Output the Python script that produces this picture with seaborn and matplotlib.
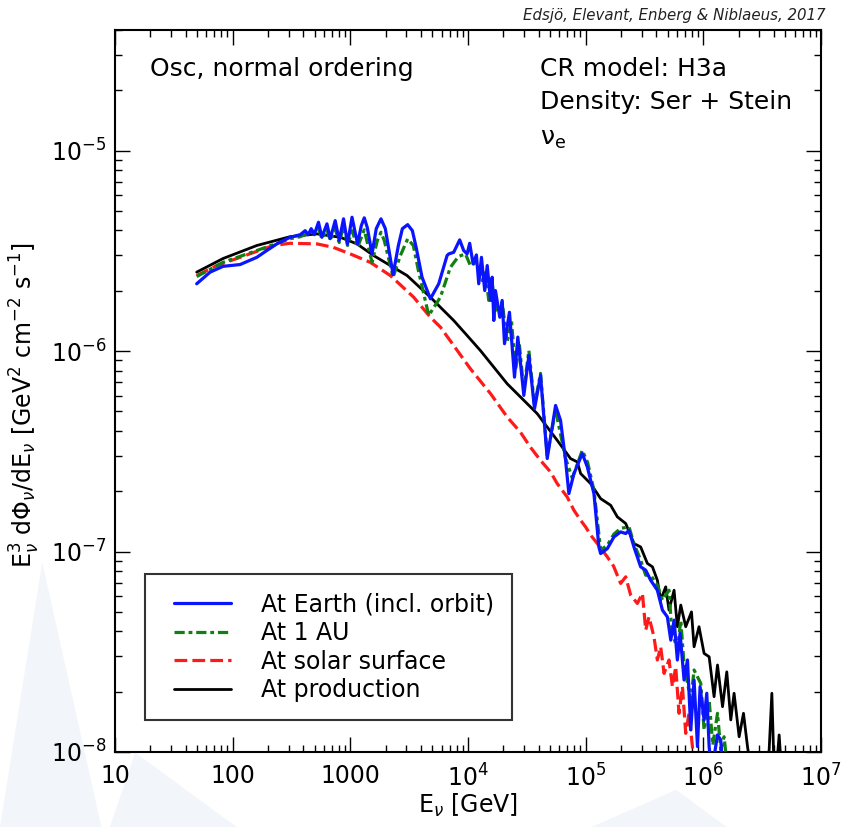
import numpy as np
import pandas as pd
import matplotlib
matplotlib.use("Agg")
import matplotlib.pyplot as plt
import seaborn as sns
from matplotlib.patches import Polygon
from matplotlib.lines import Line2D
from matplotlib.legend_handler import HandlerLine2D

# ---- spectra: log10(E / GeV) and log10(E^3 dPhi/dE) ----
earth_log_e = [1.695, 1.809, 1.919, 2.064, 2.206, 2.291, 2.376, 2.489, 2.575, 2.617,
               2.643, 2.668, 2.694, 2.730, 2.759, 2.802, 2.830, 2.872, 2.906, 2.943,
               2.977, 3.015, 3.062, 3.094, 3.119, 3.145, 3.185, 3.221, 3.261, 3.298,
               3.364, 3.409, 3.443, 3.488, 3.528, 3.562, 3.610,
               3.681, 3.752, 3.823, 3.837, 3.879, 3.930, 3.964, 3.993, 4.015, 4.044,
               4.072, 4.092, 4.115, 4.143, 4.164, 4.192, 4.206, 4.220, 4.234, 4.271,
               4.291, 4.311, 4.353, 4.396, 4.424, 4.475, 4.518, 4.566, 4.617, 4.674,
               4.745, 4.787, 4.830, 4.858, 4.901, 4.972, 5.015, 5.071, 5.113, 5.128,
               5.185, 5.241, 5.298, 5.341, 5.369, 5.411, 5.468, 5.511, 5.553, 5.610,
               5.653, 5.695, 5.724, 5.752, 5.780, 5.803, 5.837, 5.866, 5.894, 5.922,
               5.951, 5.973, 6.007, 6.030, 6.050, 6.072, 6.121, 6.149, 6.174]
earth_log_flux = [-5.664, -5.606, -5.577, -5.568, -5.532, -5.498, -5.465, -5.432, -5.419, -5.399,
                  -5.419, -5.389, -5.419, -5.357, -5.432, -5.365, -5.439, -5.349, -5.448, -5.340,
                  -5.465, -5.332, -5.465, -5.374, -5.335, -5.384, -5.515, -5.389, -5.340, -5.389,
                  -5.618, -5.473, -5.389, -5.369, -5.399, -5.488, -5.631,
                  -5.739, -5.664, -5.523, -5.515, -5.507, -5.445, -5.498, -5.515, -5.462, -5.565,
                  -5.520, -5.664, -5.532, -5.698, -5.573, -5.747, -5.631, -5.847, -5.698, -5.831,
                  -5.747, -5.963, -5.806, -6.130, -5.930, -6.221, -6.022, -6.287, -6.121, -6.536,
                  -6.271, -6.345, -6.545, -6.711, -6.611, -6.511, -6.578, -6.711, -6.977, -7.010,
                  -6.985, -6.927, -6.902, -6.910, -6.894, -6.977, -7.076, -7.093, -7.143, -7.193,
                  -7.292, -7.326, -7.442, -7.342, -7.541, -7.408, -7.641, -7.541, -7.890, -7.641,
                  -7.973, -7.674, -7.840, -7.707, -7.973, -8.100, -7.915, -7.940, -8.200]

au_log_e = [1.695, 1.919, 2.206, 2.489, 2.575, 2.617, 2.668, 2.730, 2.759, 2.802,
            2.830, 2.872, 2.906, 2.943, 2.977, 3.015, 3.062, 3.119, 3.185, 3.230,
            3.261, 3.289, 3.364, 3.426, 3.488, 3.536, 3.579, 3.667, 3.766, 3.851,
            3.919, 3.979, 4.021, 4.072,
            4.121, 4.149, 4.177, 4.209, 4.234, 4.291, 4.334, 4.370, 4.404, 4.438,
            4.475, 4.518, 4.566, 4.617, 4.674, 4.745, 4.830, 4.887, 4.972, 5.017,
            5.071, 5.128, 5.185, 5.241, 5.298, 5.369, 5.411, 5.468, 5.511, 5.553,
            5.610, 5.653, 5.709, 5.732, 5.780, 5.809, 5.837, 5.894, 5.922, 5.979,
            6.007, 6.050, 6.081, 6.121, 6.149, 6.177, 6.209]
au_log_flux = [-5.628, -5.557, -5.498, -5.439, -5.429, -5.419, -5.409, -5.389, -5.439, -5.394,
               -5.448, -5.389, -5.458, -5.379, -5.473, -5.399, -5.482, -5.395, -5.557, -5.448,
               -5.407, -5.448, -5.631, -5.523, -5.440, -5.473, -5.598, -5.822, -5.731, -5.582,
               -5.528, -5.515, -5.573, -5.558,
               -5.648, -5.608, -5.747, -5.673, -5.797, -5.756, -5.955, -5.847, -6.096, -5.972,
               -6.196, -5.997, -6.271, -6.111, -6.520, -6.296, -6.535, -6.634, -6.495, -6.555,
               -6.694, -6.993, -6.968, -6.913, -6.884, -6.877, -6.960, -7.043, -7.118, -7.118,
               -7.168, -7.242, -7.193, -7.392, -7.492, -7.342, -7.566, -7.741, -7.591, -7.658,
               -7.890, -7.741, -7.965, -7.807, -7.990, -7.924, -8.100]

surface_log_e = [1.695, 1.866, 2.064, 2.345, 2.489, 2.717, 2.855, 3.000, 3.170, 3.341,
                 3.539, 3.681, 3.766, 3.879, 4.021, 4.192, 4.334, 4.447, 4.532, 4.617,
                 4.702, 4.759, 4.844, 4.901, 4.958, 5.000, 5.043, 5.100, 5.185, 5.238,
                 5.298, 5.341, 5.383, 5.440, 5.483, 5.511, 5.539, 5.581, 5.610, 5.638,
                 5.667, 5.709, 5.738, 5.766, 5.794, 5.823, 5.851, 5.879, 5.908, 5.945]
surface_log_flux = [-5.623, -5.573, -5.532, -5.473, -5.462, -5.465, -5.482, -5.515, -5.557, -5.623,
                    -5.731, -5.831, -5.880, -5.972, -6.088, -6.212, -6.329, -6.405, -6.480, -6.545,
                    -6.603, -6.661, -6.728, -6.794, -6.844, -6.877, -6.918, -6.960, -7.027, -7.073,
                    -7.159, -7.126, -7.217, -7.259, -7.209, -7.392, -7.326, -7.425, -7.541, -7.475,
                    -7.608, -7.541, -7.674, -7.575, -7.807, -7.674, -7.907, -7.807, -7.973, -8.200]

production_log_e = [1.695, 1.919, 2.206, 2.489, 2.717, 2.915, 3.057, 3.198, 3.483, 3.681,
                    3.766, 3.879, 3.993, 4.106, 4.220, 4.334, 4.447, 4.589, 4.674, 4.759,
                    4.872, 4.930, 4.958, 5.043, 5.128, 5.213, 5.270, 5.341, 5.411, 5.468,
                    5.525, 5.568, 5.610, 5.638, 5.681, 5.709, 5.752, 5.780, 5.809, 5.851,
                    5.900, 5.922, 5.964, 6.007, 6.050, 6.092, 6.121, 6.164, 6.200, 6.234,
                    6.262, 6.305, 6.342, 6.376, 6.421, 6.490, 6.560, 6.583, 6.600, 6.620,
                    6.645, 6.677]
production_log_flux = [-5.606, -5.538, -5.473, -5.429, -5.415, -5.432, -5.465, -5.523, -5.623, -5.731,
                       -5.781, -5.847, -5.922, -5.997, -6.080, -6.163, -6.229, -6.312, -6.379, -6.445,
                       -6.536, -6.553, -6.611, -6.661, -6.736, -6.769, -6.827, -6.860, -6.960, -6.977,
                       -7.059, -7.076, -7.143, -7.242, -7.176, -7.292, -7.193, -7.375, -7.267, -7.375,
                       -7.301, -7.475, -7.375, -7.508, -7.525, -7.724, -7.566, -7.774, -7.600, -7.840,
                       -7.707, -7.924, -7.807, -7.973, -8.150, -8.200, -7.990, -7.707, -8.050, -8.100,
                       -7.915, -8.200]

series_labels = ["At Earth (incl. orbit)", "At 1 AU", "At solar surface", "At production"]
x_tick_values = [10, 100, 1000, 1e4, 1e5, 1e6, 1e7]
x_tick_labels = ["10", "100", "1000", r"10$^{4}$", r"10$^{5}$", r"10$^{6}$", r"10$^{7}$"]
y_tick_values = [1e-8, 1e-7, 1e-6, 1e-5]
y_tick_labels = [r"10$^{-8}$", r"10$^{-7}$", r"10$^{-6}$", r"10$^{-5}$"]


def frame(log_e, log_flux, label):
    return pd.DataFrame({"energy": np.power(10.0, log_e),
                         "flux": np.power(10.0, log_flux),
                         "series": label})


sns.set_theme(style="ticks")
plt.rcParams["font.family"] = ["DejaVu Sans"]
plt.rcParams["mathtext.fontset"] = "dejavusans"
plt.rcParams["text.color"] = "black"
plt.rcParams["axes.labelcolor"] = "black"
plt.rcParams["xtick.color"] = "black"
plt.rcParams["ytick.color"] = "black"

fig = plt.figure(figsize=(8.45, 8.27), dpi=100)

# faint background emblem
for pts in ([(0.0, 0.0), (0.12, 0.0), (0.05, 0.32)],
            [(0.13, 0.0), (0.28, 0.0), (0.16, 0.09)],
            [(0.70, 0.0), (0.86, 0.0), (0.80, 0.045)]):
    fig.patches.append(Polygon(pts, closed=True, transform=fig.transFigure,
                               facecolor="#f2f5fa", edgecolor="none", zorder=-5))

ax = fig.add_axes([0.136, 0.0907, 0.8355, 0.873])
ax.set_facecolor("none")

styles = [
    (frame(production_log_e, production_log_flux, series_labels[3]), "black", "-", 2.0, 2),
    (frame(surface_log_e, surface_log_flux, series_labels[2]), "#ff1a1a", (0, (4, 1.6)), 2.3, 3),
    (frame(au_log_e, au_log_flux, series_labels[1]), "#118011", (0, (3.2, 1.2, 1.2, 1.2)), 2.3, 4),
    (frame(earth_log_e, earth_log_flux, series_labels[0]), "#0a14ff", "-", 2.3, 5),
]
for df, color, ls, lw, z in styles:
    sns.lineplot(data=df, x="energy", y="flux", ax=ax, color=color, linestyle=ls,
                 linewidth=lw, estimator=None, sort=False, label=df["series"].iloc[0],
                 zorder=z)

ax.set_xscale("log")
ax.set_yscale("log")
ax.set_xlim(10, 1e7)
ax.set_ylim(1e-8, 4e-5)
ax.set_xticks(x_tick_values)
ax.set_xticklabels(x_tick_labels)
ax.set_yticks(y_tick_values)
ax.set_yticklabels(y_tick_labels)
ax.xaxis.set_minor_locator(matplotlib.ticker.LogLocator(base=10, subs=np.arange(2, 10)))
ax.yaxis.set_minor_locator(matplotlib.ticker.LogLocator(base=10, subs=np.arange(2, 10)))
ax.xaxis.set_minor_formatter(matplotlib.ticker.NullFormatter())
ax.yaxis.set_minor_formatter(matplotlib.ticker.NullFormatter())
ax.tick_params(which="both", direction="in", top=True, right=True, labelsize=17)
ax.tick_params(which="major", length=11, width=1.0)
ax.tick_params(axis="x", which="major", pad=9)
ax.tick_params(axis="y", which="major", pad=6)
ax.tick_params(which="minor", length=5, width=1.0)
for s in ax.spines.values():
    s.set_color("black")
    s.set_linewidth(1.5)

ax.set_xlabel(r"E$_\nu$ [GeV]", fontsize=17, labelpad=0)
ax.set_ylabel(r"E$_\nu^3$ d$\Phi_\nu$/dE$_\nu$ [GeV$^2$ cm$^{-2}$ s$^{-1}$]",
              fontsize=17, labelpad=0)
ax.yaxis.set_label_coords(-0.103, 0.48)

# annotations in the plot
ax.text(0.0496, 0.963, "Osc, normal ordering", transform=ax.transAxes,
        fontsize=18, va="top", ha="left")
ax.text(0.602, 0.963, "CR model: H3a", transform=ax.transAxes,
        fontsize=18, va="top", ha="left")
ax.text(0.602, 0.917, "Density: Ser + Stein", transform=ax.transAxes,
        fontsize=18, va="top", ha="left")
ax.text(0.602, 0.866, r"ν$_{\rm e}$", transform=ax.transAxes,
        fontsize=18, va="top", ha="left")

fig.text(0.977, 0.981, "Edsjö, Elevant, Enberg & Niblaeus, 2017", ha="right",
         va="center", fontsize=10.8, style="italic", color="#222222")

handles, labels = ax.get_legend_handles_labels()
order = [labels.index(lbl) for lbl in series_labels]
leg = ax.legend([handles[i] for i in order], [labels[i] for i in order],
                loc="lower left", bbox_to_anchor=(0.0425, 0.0443), borderaxespad=0,
                fontsize=17, frameon=True, fancybox=False, handlelength=2.9,
                handletextpad=1.27, labelspacing=0.2, borderpad=0.75,
                handler_map={Line2D: HandlerLine2D(xpad=0.5)})
leg.get_frame().set_edgecolor("black")
leg.get_frame().set_linewidth(1.5)

fig.savefig("out.png", dpi=100)
